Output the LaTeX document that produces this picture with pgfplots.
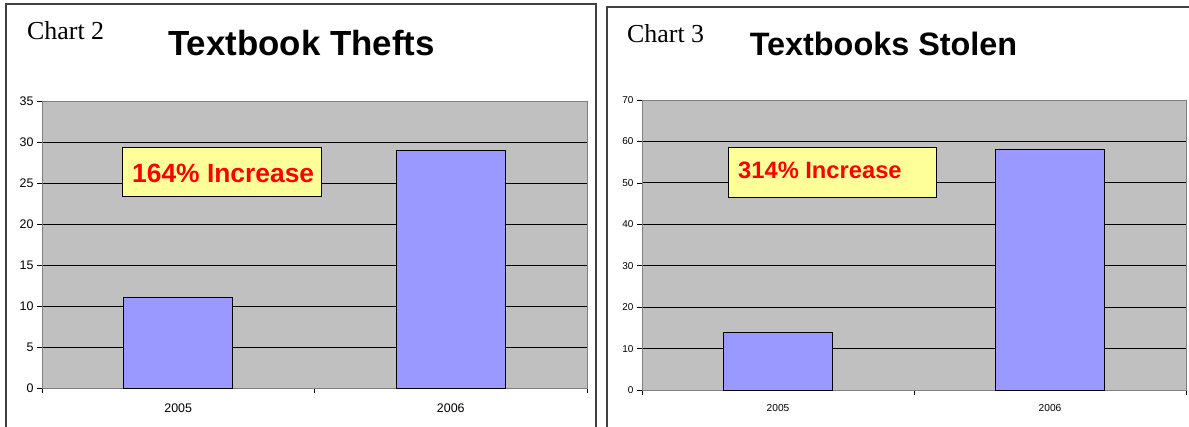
\documentclass[border=0pt]{standalone}
\usepackage{pgfplots}
\pgfplotsset{compat=1.18}
\usepackage{fontspec}
\setmainfont{Liberation Sans}
\newfontfamily\seriffont{Liberation Serif}
\definecolor{plotbg}{HTML}{C0C0C0}
\definecolor{barfill}{HTML}{9999FF}
\definecolor{boxfill}{HTML}{FFFF99}
\definecolor{framecol}{HTML}{404040}
\pgfplotsset{
  excelbar/.style={
    scale only axis,
    anchor=south west,
    width=545bp,
    axis background/.style={fill=plotbg},
    axis line style={draw=black!50, line width=0.8bp},
    ybar, bar width=109bp, bar shift=0pt,
    xmin=-0.5, xmax=1.5, ymin=0,
    xtick={-0.5,0.5,1.5},
    x tick label as interval,
    xticklabels={2005,2006},
    xtick pos=lower, ytick pos=left,
    tick align=outside,
    major tick length=5bp,
    tick style={black, line width=0.6bp},
    ymajorgrids,
    grid style={black, line width=0.8bp},
    /pgf/number format/assume math mode=true,
  }
}
\begin{document}
\begin{tikzpicture}[x=1bp,y=1bp]
\clip (0,0) rectangle (1189,426);
\fill[white] (0,0) rectangle (1189,426);
% panel frames
\draw[framecol, line width=1.5bp] (6,-10) -- (6,422) -- (596,422) -- (596,-10);
\draw[framecol, line width=1.5bp] (607,-10) -- (607,419) -- (1195,419) -- (1195,-10);

% left chart
\begin{axis}[excelbar,
  at={(42bp,38bp)}, height=287bp,
  ymax=35, ytick={0,5,...,35},
  yticklabel style={font=\fontsize{12.5}{14}\selectfont, xshift=0bp},
  xticklabel style={font=\fontsize{12.5}{14}\selectfont, yshift=-7bp},
]
\addplot[fill=barfill, draw=black, line width=0.7bp] coordinates {(0,11) (1,29)};
\end{axis}
\node[anchor=base west, inner sep=0] at (27,387) {\seriffont\fontsize{26}{29}\selectfont Chart 2};
\node[anchor=base, inner sep=0] at (301.5,371) {\fontsize{35}{40}\selectfont\bfseries Textbook Thefts};
\node[draw=black, line width=0.8bp, fill=boxfill, minimum width=199bp, minimum height=49bp, inner sep=0] at (221.5,254.5) {};
\node[anchor=base west, inner sep=0, text=red] at (132,244) {\fontsize{26.5}{30}\selectfont\bfseries 164\% Increase};

% right chart
\begin{axis}[excelbar,
  at={(642bp,36bp)}, height=290bp, width=544bp,
  ymax=70, ytick={0,10,...,70},
  yticklabel style={font=\fontsize{10}{12}\selectfont, xshift=0bp},
  xticklabel style={font=\fontsize{10.2}{12}\selectfont, yshift=-6bp},
]
\addplot[fill=barfill, draw=black, line width=0.7bp] coordinates {(0,14) (1,58)};
\end{axis}
\node[anchor=base west, inner sep=0] at (627,384) {\seriffont\fontsize{26}{29}\selectfont Chart 3};
\node[anchor=base, inner sep=0] at (883.5,371) {\fontsize{32.5}{37}\selectfont\bfseries Textbooks Stolen};
\node[draw=black, line width=0.8bp, fill=boxfill, minimum width=208bp, minimum height=50bp, inner sep=0] at (832,254) {};
\node[anchor=base west, inner sep=0, text=red] at (738,248) {\fontsize{23.8}{27}\selectfont\bfseries 314\% Increase};
\end{tikzpicture}
\end{document}
